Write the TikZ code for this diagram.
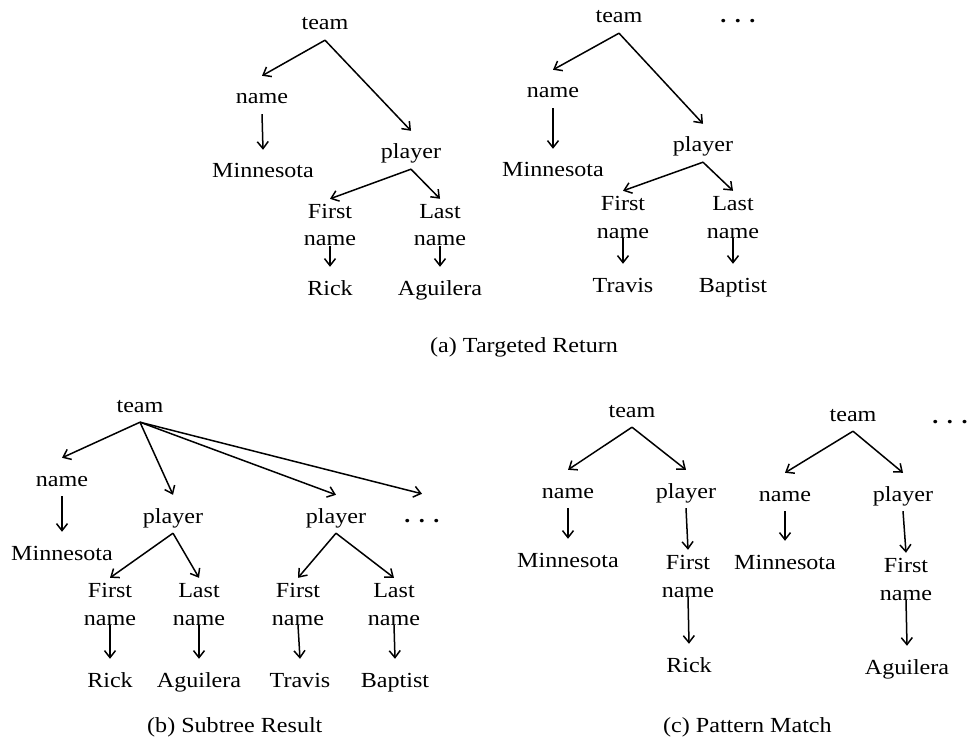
\documentclass[tikz,border=0pt]{standalone}
\usepackage{fontspec}
\setmainfont{Liberation Serif}[FakeStretch=1.12]
\usetikzlibrary{arrows.meta}
\tikzset{
  lbl/.style={anchor=base, inner sep=0pt, text height=28pt, text depth=10pt},
  twoline/.style={anchor=base, inner sep=0pt, align=center, text height=47pt, text depth=-3pt},
  captext/.style={anchor=base west, inner sep=0pt}
}
\newcommand{\etcdots}{\textbf{.\kern8.5pt.\kern8.5pt.}}
\begin{document}
\begin{tikzpicture}[x=1pt, y=-1pt, font=\fontsize{21.5}{28}\selectfont]
      \useasboundingbox (0,0) rectangle (968,743);
      % (a) targeted return
      \draw
        (325,30) node[lbl] (t1){team}
        (262,104) node[lbl] (n1){name}
        (263,178) node[lbl] (m1){Minnesota}
        (411,159) node[lbl] (p1){player}
        (330,246) node[twoline] (f1){First\\name}
        (440,246) node[twoline] (l1){Last\\name}
        (330,295) node[lbl] (r1){Rick}
        (440,295) node[lbl] (a1){Aguilera}
        (619,23) node[lbl] (t2){team}
        (553,98) node[lbl] (n2){name}
        (553,177) node[lbl] (m2){Minnesota}
        (703,152) node[lbl] (p2){player}
        (623,238) node[twoline] (f2){First\\name}
        (733,238) node[twoline] (l2){Last\\name}
        (623,292) node[lbl] (r2){Travis}
        (733,292) node[lbl] (b2){Baptist}
        (738,23) node[lbl] (d2){\etcdots}
        (430,352) node[captext] (capa){(a) Targeted Return};
      % (b) subtree result
      \draw
        (140,412) node[lbl] (tb){team}
        (62,486) node[lbl] (nb){name}
        (62,560) node[lbl] (mb){Minnesota}
        (173,523) node[lbl] (pb1){player}
        (336,523) node[lbl] (pb2){player}
        (422,522) node[lbl] (db){\etcdots}
        (110,625) node[twoline] (fb1){First\\name}
        (199,625) node[twoline] (lb1){Last\\name}
        (298,625) node[twoline] (fb2){First\\name}
        (394,625) node[twoline] (lb2){Last\\name}
        (110,687) node[lbl] (rb1){Rick}
        (199,687) node[lbl] (ab1){Aguilera}
        (300,687) node[lbl] (rb2){Travis}
        (395,687) node[lbl] (ab2){Baptist}
        (147,732) node[captext] (capb){(b) Subtree Result};
      % (c) pattern match
      \draw
        (632,417) node[lbl] (tc1){team}
        (568,498) node[lbl] (nc1){name}
        (686,498) node[lbl] (pc1){player}
        (568,567) node[lbl] (mc1){Minnesota}
        (688,597) node[twoline] (fc1){First\\name}
        (689,672) node[lbl] (rc1){Rick}
        (853,421) node[lbl] (tc2){team}
        (785,501) node[lbl] (nc2){name}
        (903,501) node[lbl] (pc2){player}
        (785,569) node[lbl] (mc2){Minnesota}
        (906,600) node[twoline] (fc2){First\\name}
        (907,674) node[lbl] (ac2){Aguilera}
        (950,423) node[lbl] (dc){\etcdots}
        (663,732) node[captext] (capc){(c) Pattern Match};
      \begin{scope}[-{Straight Barb[length=7pt,width=11pt]}, line width=1.5pt]
        \draw (t1.south) to (n1.north);
        \draw (t1.south) to (p1.north);
        \draw (n1.south) to (m1.north);
        \draw (p1.south) to (f1.north);
        \draw (p1.south) to (l1.north);
        \draw (f1.south) to (r1.north);
        \draw (l1.south) to (a1.north);
        \draw (t2.south) to (n2.north);
        \draw (t2.south) to (p2.north);
        \draw (n2.south) to (m2.north);
        \draw (p2.south) to (f2.north);
        \draw (p2.south) to (l2.north);
        \draw (f2.south) to (r2.north);
        \draw (l2.south) to (b2.north);
        \draw (tb.south) to (nb.north);
        \draw (tb.south) to (pb1.north);
        \draw (tb.south) to (pb2.north);
        \draw (tb.south) to (db.north);
        \draw (nb.south) to (mb.north);
        \draw (pb1.south) to (fb1.north);
        \draw (pb1.south) to (lb1.north);
        \draw (pb2.south) to (fb2.north);
        \draw (pb2.south) to (lb2.north);
        \draw (fb1.south) to (rb1.north);
        \draw (lb1.south) to (ab1.north);
        \draw (fb2.south) to (rb2.north);
        \draw (lb2.south) to (ab2.north);
        \draw (tc1.south) to (nc1.north);
        \draw (tc1.south) to (pc1.north);
        \draw (nc1.south) to (mc1.north);
        \draw (pc1.south) to (fc1.north);
        \draw (fc1.south) to (rc1.north);
        \draw (tc2.south) to (nc2.north);
        \draw (tc2.south) to (pc2.north);
        \draw (nc2.south) to (mc2.north);
        \draw (pc2.south) to (fc2.north);
        \draw (fc2.south) to (ac2.north);
      \end{scope}
    \end{tikzpicture}
\end{document}
